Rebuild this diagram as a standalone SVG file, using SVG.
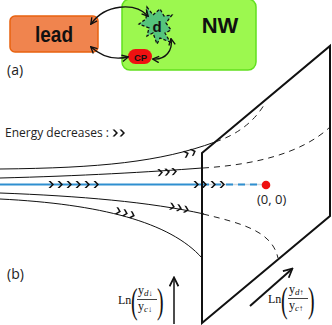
<svg xmlns="http://www.w3.org/2000/svg" xmlns:xlink="http://www.w3.org/1999/xlink" width="332" height="325" viewBox="0 0 332 325">
<style>
.sans{font-family:"Open Sans","Liberation Sans",sans-serif;fill:#222}
.bold{font-family:"Liberation Sans",Arial,sans-serif;font-weight:bold;fill:#111}
.serif{font-family:"Liberation Serif","Times New Roman",serif;fill:#111}
.flow{fill:none;stroke:#111;stroke-width:1}
.dash{fill:none;stroke:#222;stroke-width:1;stroke-dasharray:6,5}
.conn{fill:none;stroke:#111;stroke-width:1.4}
</style>
<defs>
<marker id="ah" viewBox="0 0 10 10" refX="8.5" refY="5" markerWidth="8" markerHeight="8" markerUnits="userSpaceOnUse" orient="auto-start-reverse">
<path d="M1,1 L9,5 L1,9" fill="none" stroke="#111" stroke-width="1.7"/>
</marker>
<marker id="ah2" viewBox="0 0 10 10" refX="8.5" refY="5" markerWidth="11" markerHeight="11" markerUnits="userSpaceOnUse" orient="auto">
<path d="M1,1 L9,5 L1,9" fill="none" stroke="#111" stroke-width="1.6"/>
</marker>
<path id="ch" d="M-2.5,-3.5 L-0.4,-3.5 L3,0 L-0.4,3.5 L-2.5,3.5 L0.9,0 Z" fill="#111"/>
</defs>

<!-- (a) panel -->
<g id="lead">
<rect x="10" y="16" width="88" height="36" rx="5" fill="#F0844E" stroke="#E8620F" stroke-width="1.5"/>
<text class="bold" x="54" y="42" font-size="22" text-anchor="middle" textLength="38" lengthAdjust="spacingAndGlyphs">lead</text>
</g>
<g id="NW">
<rect x="122" y="-1" width="134" height="71" rx="8" fill="#9CF84F" stroke="#62E01F" stroke-width="1.5"/>
<text class="bold" x="220" y="33" font-size="22" text-anchor="middle">NW</text>
</g>
<g id="d">
<polygon points="147,7 153,15 160,9 164,16 172,15 166,23 171,30 165,33 170,42 160,38 157,44 153,33 147,36 149,28 139,24 146,19" fill="#55C47C" stroke="#111" stroke-width="1.3" stroke-dasharray="3,2"/>
<text class="bold" x="157" y="32" font-size="15" text-anchor="middle">d</text>
</g>
<g id="CP">
<rect x="128" y="49" width="24" height="15" rx="7.5" fill="#EE1111"/>
<text class="bold" x="140.5" y="60.5" font-size="9.5" text-anchor="middle" fill="#220000">CP</text>
</g>
<g id="connectors">
<path class="conn" d="M91,24 C105,4 135,2 148,16" marker-start="url(#ah)" marker-end="url(#ah)"/>
<path class="conn" d="M91,47 C102,57 115,60 128,57" marker-start="url(#ah)" marker-end="url(#ah)"/>
<path class="conn" d="M153,59 C166,60 173,50 171,39" marker-start="url(#ah)" marker-end="url(#ah)"/>
</g>
<text class="sans" x="7" y="75" font-size="14">(a)</text>

<!-- (b) panel -->
<text class="sans" x="5" y="136.5" font-size="12">Energy decreases :</text>
<use xlink:href="#ch" href="#ch" transform="translate(115,133)"/>
<use xlink:href="#ch" href="#ch" transform="translate(122,133)"/>

<g id="flows">
<path class="flow" d="M0,169 C100,168 160,162 215,142"/>
<path class="flow" d="M0,178 C80,176 150,172 202,168"/>
<path class="flow" d="M0,193 C80,196 150,202 204,214"/>
<path class="flow" d="M0,199 C100,204 170,222 202,258"/>
<path class="dash" d="M215,142 Q248,131 264,105"/>
<path class="dash" d="M203,168 C250,165 300,155 330,127"/>
<path class="dash" d="M203,214 C245,224 272,232 278,258"/>
<line x1="0" y1="184.5" x2="202" y2="184.5" stroke="#2F8FD0" stroke-width="2"/>
<line x1="202" y1="184.5" x2="262" y2="184.5" stroke="#cfd8de" stroke-width="1.5"/>
<line x1="202" y1="184.5" x2="262" y2="184.5" stroke="#2F8FD0" stroke-width="2" stroke-dasharray="7,5"/>
<circle cx="266" cy="185" r="4.3" fill="#EE1111"/>
</g>

<g id="chevrons">
<use href="#ch" transform="translate(186,154) rotate(-18)"/>
<use href="#ch" transform="translate(193,152) rotate(-20)"/>
<use href="#ch" transform="translate(160,172.5) rotate(-4)"/>
<use href="#ch" transform="translate(167,172) rotate(-4)"/>
<use href="#ch" transform="translate(174,171.5) rotate(-4)"/>
<use href="#ch" transform="translate(51,184.5)"/>
<use href="#ch" transform="translate(60,184.5)"/>
<use href="#ch" transform="translate(69,184.5)"/>
<use href="#ch" transform="translate(78,184.5)"/>
<use href="#ch" transform="translate(87,184.5)"/>
<use href="#ch" transform="translate(96,184.5)"/>
<use href="#ch" transform="translate(196,184.5)"/>
<use href="#ch" transform="translate(204,184.5)"/>
<use href="#ch" transform="translate(213,184.5)"/>
<use href="#ch" transform="translate(222,184.5)"/>
<use href="#ch" transform="translate(172,206.5) rotate(11)"/>
<use href="#ch" transform="translate(179,208) rotate(12)"/>
<use href="#ch" transform="translate(186,209.5) rotate(13)"/>
<use href="#ch" transform="translate(118,211) rotate(14)"/>
<use href="#ch" transform="translate(125,213) rotate(15)"/>
<use href="#ch" transform="translate(132,215) rotate(17)"/>
</g>

<g id="plane">
<polygon points="202,153 330,46 330,216 202,323" fill="none" stroke="#111" stroke-width="2" stroke-linejoin="miter"/>
</g>

<text class="sans" x="257" y="204" font-size="13">(0, 0)</text>
<text class="sans" x="7" y="279" font-size="14">(b)</text>

<g id="axis1">
<line x1="174" y1="324" x2="174" y2="278" stroke="#111" stroke-width="1.5" marker-end="url(#ah2)"/>
<text class="serif" x="118" y="304" font-size="12">Ln</text>
<text class="serif" transform="translate(131,313) scale(0.55,1)" font-size="36">(</text>
<text class="serif" x="138" y="294" font-size="12">y<tspan font-size="9" dy="1.5" font-style="italic">d</tspan><tspan font-size="8">↓</tspan></text>
<line x1="137" y1="299.5" x2="157" y2="299.5" stroke="#111" stroke-width="0.8"/>
<text class="serif" x="138" y="310" font-size="12">y<tspan font-size="9" dy="1.5" font-style="italic">c</tspan><tspan font-size="8">↓</tspan></text>
<text class="serif" transform="translate(157,313) scale(0.55,1)" font-size="36">)</text>
</g>

<g id="axis2">
<line x1="250" y1="306" x2="292" y2="269" stroke="#111" stroke-width="2" marker-end="url(#ah2)"/>
<text class="serif" x="268" y="303" font-size="12">Ln</text>
<text class="serif" transform="translate(281,312) scale(0.55,1)" font-size="36">(</text>
<text class="serif" x="289" y="293" font-size="12">y<tspan font-size="9" dy="1.5" font-style="italic">d</tspan><tspan font-size="8">↑</tspan></text>
<line x1="288" y1="298.5" x2="308" y2="298.5" stroke="#111" stroke-width="0.8"/>
<text class="serif" x="289" y="309" font-size="12">y<tspan font-size="9" dy="1.5" font-style="italic">c</tspan><tspan font-size="8">↑</tspan></text>
<text class="serif" transform="translate(308,312) scale(0.55,1)" font-size="36">)</text>
</g>
</svg>
